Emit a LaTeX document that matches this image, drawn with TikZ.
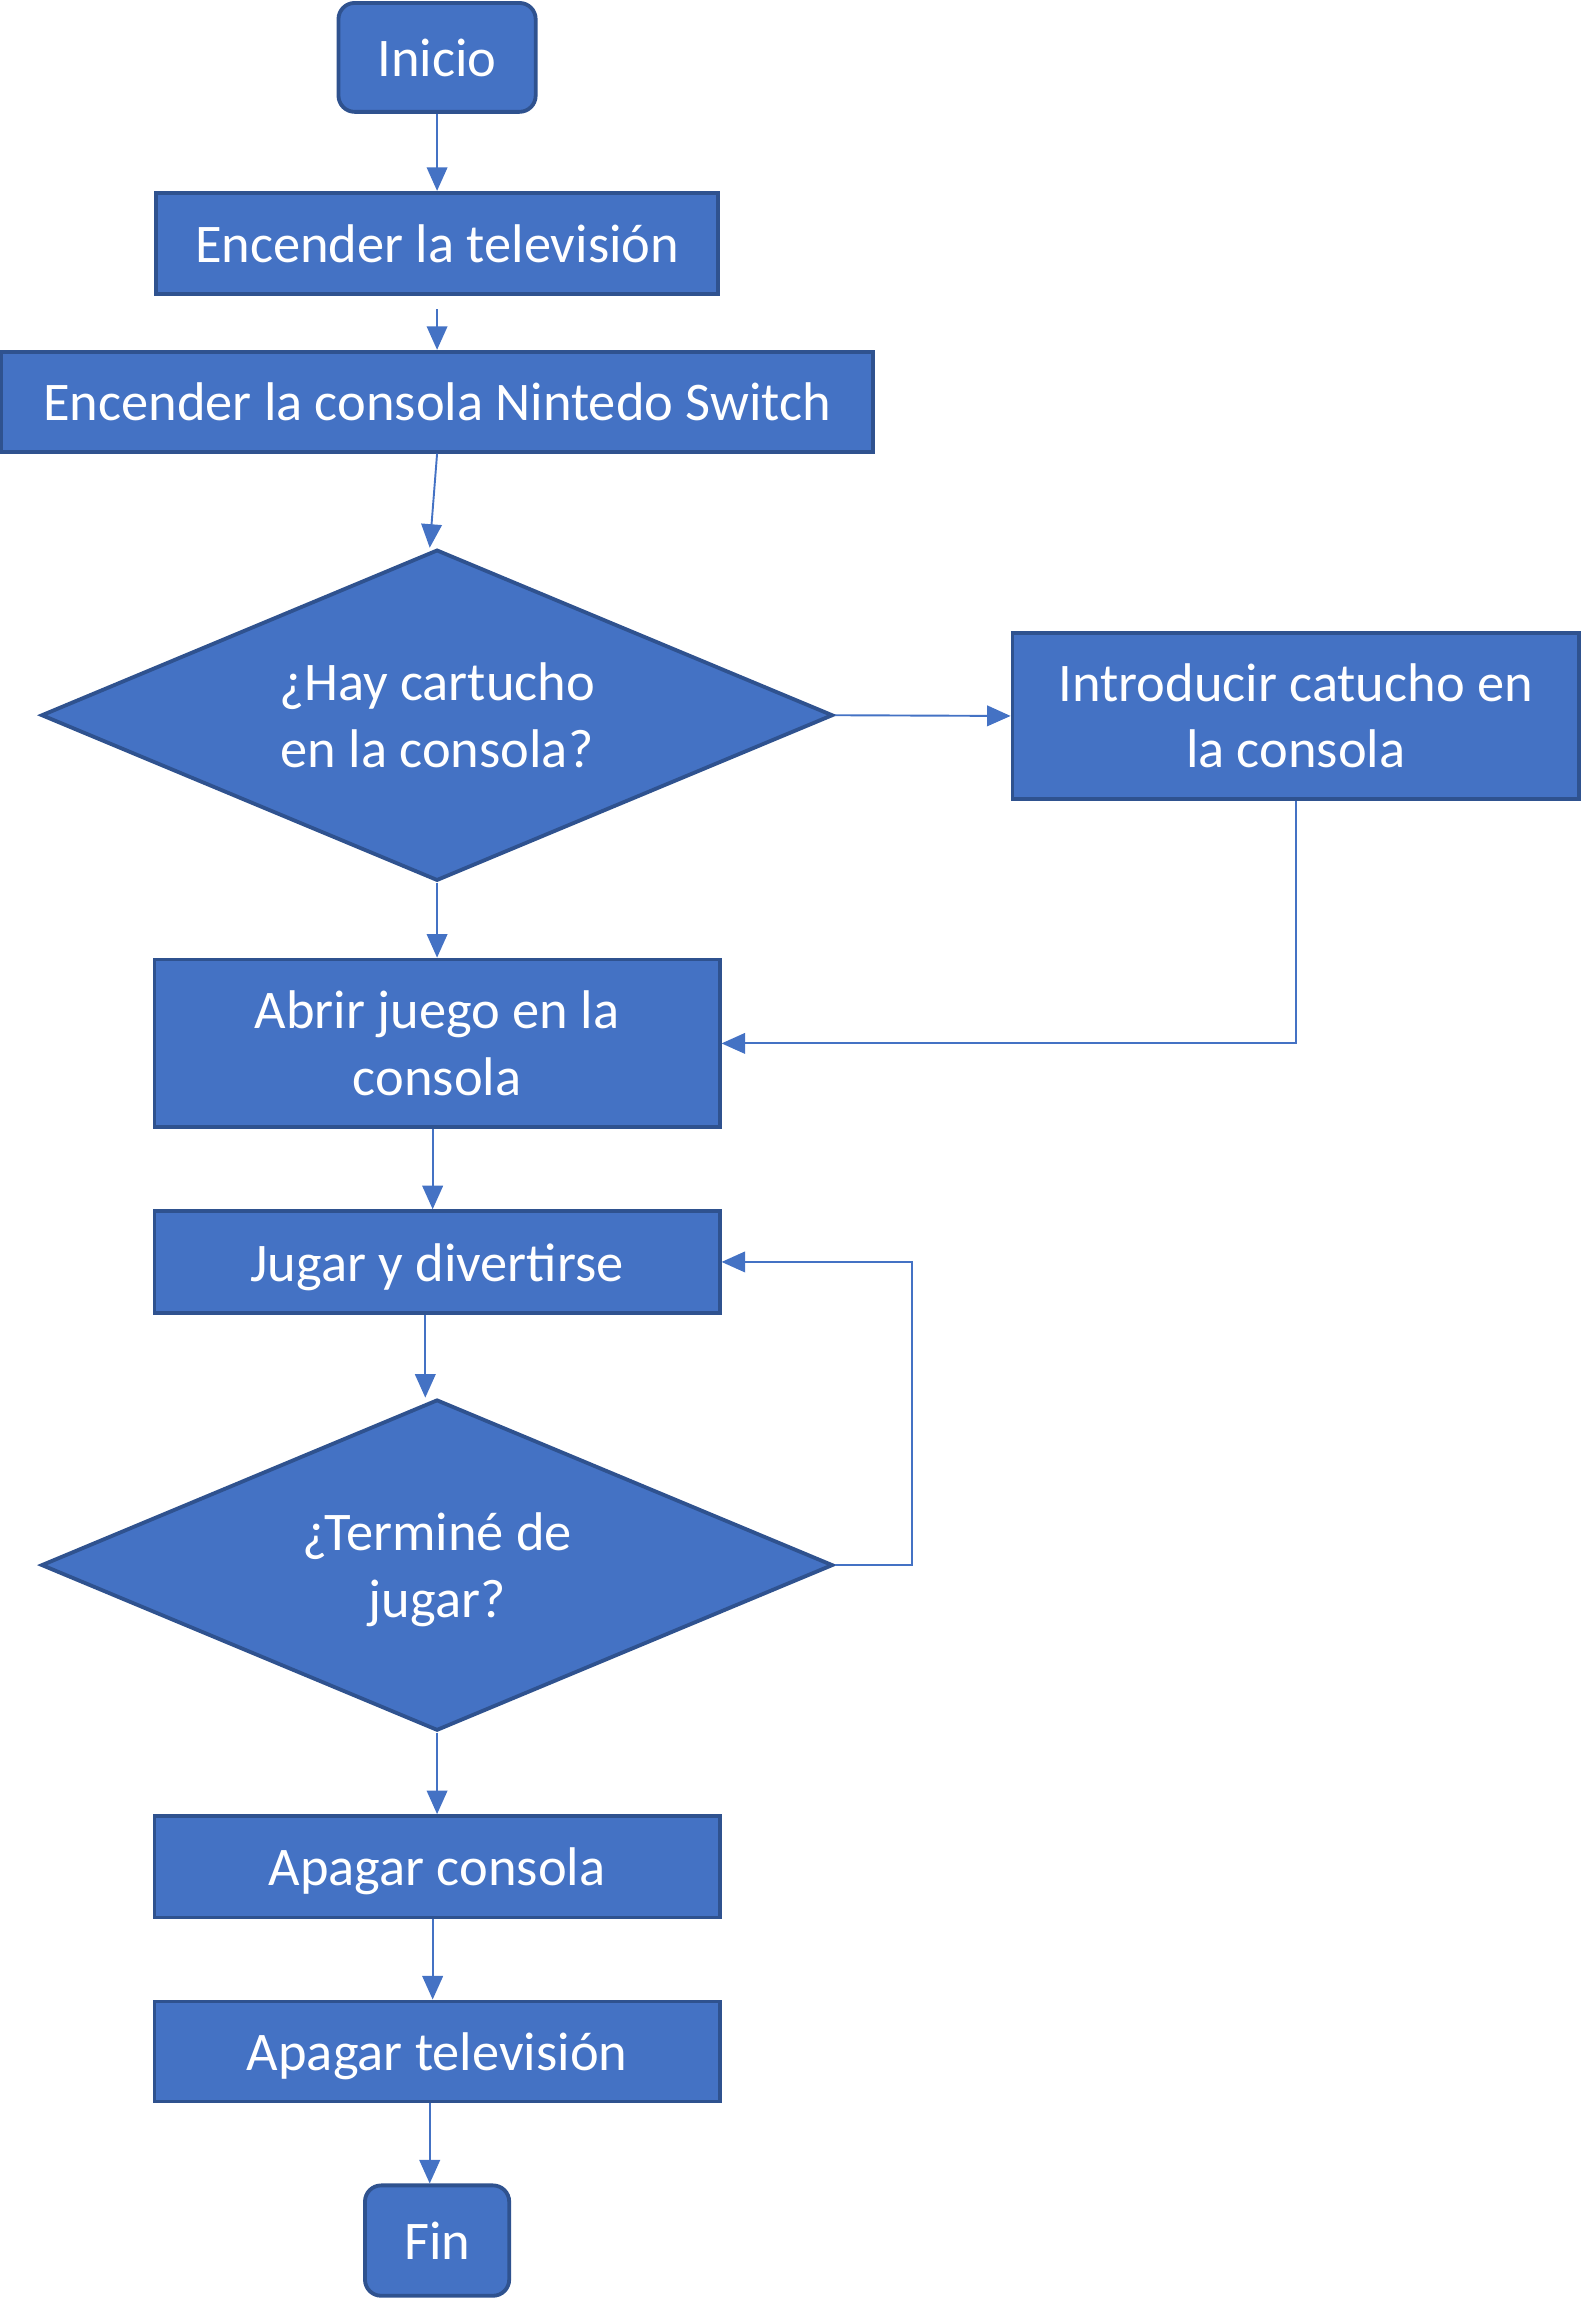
\documentclass[tikz,border=0pt]{standalone}
\usepackage{fontspec}
\setmainfont{Carlito}
\usetikzlibrary{shapes.geometric,arrows.meta}
\definecolor{boxfill}{HTML}{4472C4}
\definecolor{boxline}{HTML}{2F528F}
\definecolor{conn}{HTML}{4472C4}
\begin{document}
\begin{tikzpicture}[x=1pt,y=-1pt,
  base/.style={fill=boxfill,draw=boxline,line width=2.6pt,text=white,inner sep=0pt,align=center,
    font=\fontsize{37}{45}\selectfont},
  procbox/.style={base,rectangle},
  oneline/.style={text height=26pt,text depth=0pt},
  termbox/.style={base,rectangle,rounded corners=11pt,oneline},
  decbox/.style={base,diamond,shape aspect=2.391,minimum width=538pt,minimum height=225pt},
  arr/.style={draw=conn,line width=1.3pt,-{Triangle[length=16pt,width=14pt,fill=conn]}}]
\useasboundingbox (0,0) rectangle (1075,1569);
\node[termbox,minimum width=134pt,minimum height=74pt] (inicio) at (297,39) {Inicio};
\node[procbox,oneline,minimum width=382pt,minimum height=69pt] (tv) at (297,165.5) {Encender la televisión};
\node[procbox,oneline,minimum width=592pt,minimum height=68pt] (cons) at (297,273) {Encender la consola Nintedo Switch};
\node[decbox] (d1) at (297,486) {¿Hay cartucho\\en la consola?};
\node[procbox,minimum width=385pt,minimum height=113pt] (intro) at (880.5,486.5) {Introducir catucho en\\la consola};
\node[procbox,minimum width=384pt,minimum height=114pt] (abrir) at (297,709) {Abrir juego en la\\consola};
\node[procbox,oneline,minimum width=384pt,minimum height=69pt] (jugar) at (297,857.5) {Jugar y divertirse};
\node[decbox,text depth=0pt] (d2) at (297,1063.5) {¿Terminé de\\jugar?};
\node[procbox,oneline,minimum width=384pt,minimum height=69pt] (apc) at (297,1268.5) {Apagar consola};
\node[procbox,oneline,minimum width=384pt,minimum height=68pt] (aptv) at (297,1394) {Apagar televisión};
\node[termbox,minimum width=98pt,minimum height=75pt] (fin) at (297,1522.5) {Fin};

\draw[arr] (inicio.south) -- (tv.north);
\draw[arr] ([yshift=-9pt]tv.south) -- (cons.north);
\draw[arr] (cons.south) -- ([xshift=-5pt]d1.north);
\draw[arr] (d1.east) -- (intro.west);
\draw[arr] (d1.south) -- (abrir.north);
\draw[arr] (intro.south) |- (abrir.east);
\draw[arr] ([xshift=-3pt]abrir.south) -- ([xshift=-3pt]jugar.north);
\draw[arr] ([xshift=-8pt]jugar.south) -- ([xshift=-8pt]d2.north);
\coordinate (loop) at (620,1063.5);
\draw[arr] (d2.east) -- (loop) |- (jugar.east);
\draw[arr] (d2.south) -- (apc.north);
\draw[arr] ([xshift=-3pt]apc.south) -- ([xshift=-3pt]aptv.north);
\draw[arr] ([xshift=-5pt]aptv.south) -- ([xshift=-5pt]fin.north);
\end{tikzpicture}
\end{document}
